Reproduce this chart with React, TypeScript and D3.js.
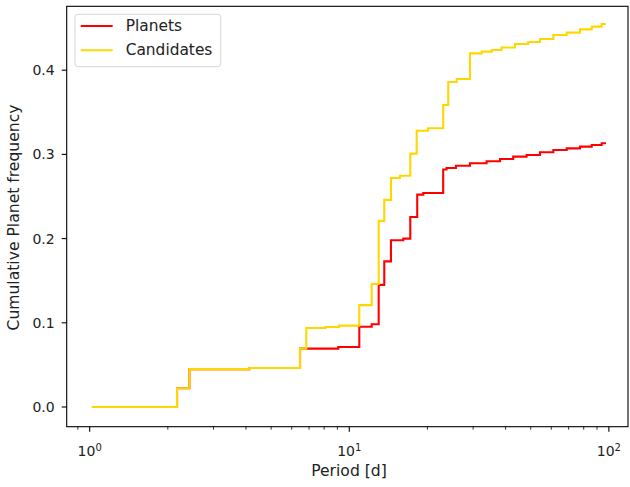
import React from 'react'
import * as d3 from 'd3'

// candidates: cumulative step curve (period in days, cumulative frequency)
const candPeriod = [1.02, 2.17, 2.42, 4.12, 6.46, 6.83, 8.11, 9.13, 10.93, 12.2, 12.98, 13.64, 14.47, 15.67, 17.18, 18.18, 20.1, 23.0, 24.06, 25.93, 29.17, 32.36, 35.36, 38.6, 43.5, 48.9, 54.3, 61.1, 68.8, 77.4, 85.9, 93.8, 97.5]
const candFreq = [0, 0.0222, 0.045, 0.0463, 0.0693, 0.0938, 0.095, 0.0966, 0.121, 0.146, 0.221, 0.246, 0.272, 0.2746, 0.3009, 0.328, 0.331, 0.3587, 0.386, 0.3895, 0.42, 0.422, 0.424, 0.427, 0.4311, 0.4335, 0.437, 0.4418, 0.4446, 0.4485, 0.4517, 0.4549, 0.4549]

// planets
const planPeriod = [1.02, 2.17, 2.42, 4.12, 6.46, 9.07, 10.93, 12.2, 12.98, 13.64, 14.47, 16.15, 17.18, 18.27, 19.28, 23.0, 23.7, 25.75, 29.17, 33.8, 38.1, 42.8, 48.2, 54.3, 61.1, 68.8, 77.4, 85.9, 93.8, 97.5]
const planFreq = [0, 0.0222, 0.045, 0.0463, 0.0693, 0.0712, 0.0954, 0.0982, 0.145, 0.173, 0.198, 0.2, 0.2256, 0.2522, 0.2542, 0.282, 0.2838, 0.2866, 0.2894, 0.2918, 0.2945, 0.2973, 0.2993, 0.3025, 0.3052, 0.3072, 0.3092, 0.3112, 0.3132, 0.3132]

const yTicks = [0, 0.1, 0.2, 0.3, 0.4]
const xMajor = [1, 10, 100]

const W = 630
const H = 487
const FONT = 'DejaVu Sans, sans-serif'

export default function App() {
  const left = 66.7, right = 628, top = 6.3, bottom = 426.7

  const x = d3.scaleLog().domain([0.8155, 118.5]).range([left, right])
  const y = d3.scaleLinear().domain([-0.02339, 0.47588]).range([bottom, top])

  const line = d3.line<[number, number]>()
    .x(d => x(d[0]))
    .y(d => y(d[1]))
    .curve(d3.curveStepAfter)

  const plan = planPeriod.map((p, i) => [p, planFreq[i]] as [number, number])
  const cand = candPeriod.map((p, i) => [p, candFreq[i]] as [number, number])

  const minor = x.ticks().filter(t => !xMajor.some(m => Math.abs(t - m) < 1e-9))

  return (
    <svg width={W} height={H} style={{ position: 'absolute', left: 0, top: 0, background: '#fff' }}
      fontFamily={FONT}>
      <rect x={0} y={0} width={W} height={H} fill="#fff" />
      <defs>
        <clipPath id="plot">
          <rect x={left} y={top} width={right - left} height={bottom - top} />
        </clipPath>
      </defs>

      <g clipPath="url(#plot)" fill="none" strokeWidth={2.1} strokeLinejoin="miter">
        <path d={line(plan) || ''} stroke="#ff0000" />
        <path d={line(cand) || ''} stroke="#ffd700" />
      </g>

      {/* spines */}
      <rect x={left} y={top} width={right - left} height={bottom - top} fill="none" stroke="#000" strokeWidth={1.1} />

      {/* y axis */}
      {yTicks.map(t => (
        <g key={t}>
          <line x1={left - 5} x2={left} y1={y(t)} y2={y(t)} stroke="#000" strokeWidth={1.1} />
          <text x={left - 12} y={y(t)} textAnchor="end" dominantBaseline="central" fontSize={14} fill="#222">
            {t.toFixed(1)}
          </text>
        </g>
      ))}

      {/* x axis */}
      {minor.map(t => (
        <line key={t} x1={x(t)} x2={x(t)} y1={bottom} y2={bottom + 3} stroke="#000" strokeWidth={0.8} />
      ))}
      {xMajor.map((t, i) => (
        <g key={t}>
          <line x1={x(t)} x2={x(t)} y1={bottom} y2={bottom + 5} stroke="#000" strokeWidth={1.1} />
          <text x={x(t)} y={456} textAnchor="middle" fontSize={14} fill="#222">
            10<tspan dy={-5.5} fontSize={10}>{i}</tspan>
          </text>
        </g>
      ))}

      <text x={349} y={476} textAnchor="middle" fontSize={15.6} fill="#222">Period [d]</text>
      <text transform={`translate(14,217.5) rotate(-90)`} textAnchor="middle" dominantBaseline="central"
        fontSize={15.6} fill="#222">Cumulative Planet frequency</text>

      {/* legend */}
      <g>
        <rect x={75} y={14.3} width={145.7} height={52.4} rx={3} fill="#fff" fillOpacity={0.8} stroke="#d6d6d6" strokeWidth={1} />
        <line x1={80.7} x2={112.7} y1={26} y2={26} stroke="#ff0000" strokeWidth={2.1} />
        <line x1={80.7} x2={112.7} y1={50.3} y2={50.3} stroke="#ffd700" strokeWidth={2.1} />
        <text x={125.7} y={26} dominantBaseline="central" fontSize={15.4} fill="#222">Planets</text>
        <text x={125.7} y={50.3} dominantBaseline="central" fontSize={15.4} fill="#222">Candidates</text>
      </g>
    </svg>
  )
}
